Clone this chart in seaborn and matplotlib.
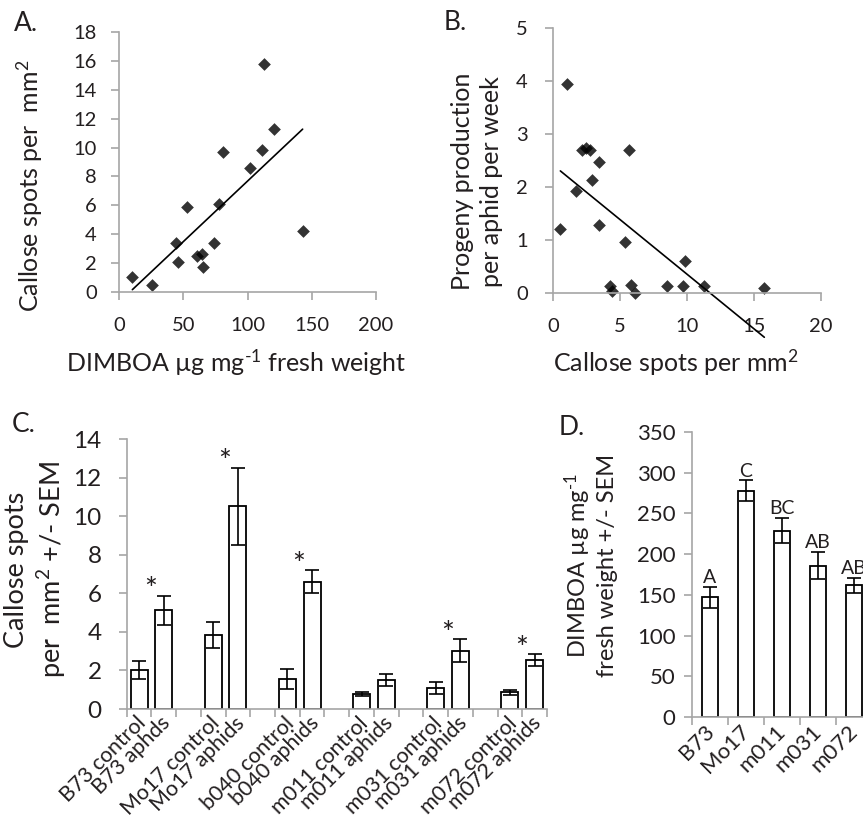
import numpy as np
import pandas as pd
import matplotlib
matplotlib.use("Agg")
import matplotlib.pyplot as plt
import seaborn as sns

# ---------------- data ----------------
# Panel A: DIMBOA vs callose spots
a_dimboa = [10.4, 26, 44.2, 45.7, 53, 60.8, 64.7, 65.5, 74, 78, 81, 101.8, 111, 113, 120.5, 142.9]
a_callose = [1.04, 0.5, 3.4, 2.1, 5.9, 2.5, 2.65, 1.73, 3.4, 6.07, 9.67, 8.56, 9.8, 15.8, 11.3, 4.22]

# Panel B: callose spots vs progeny production
b_callose = [0.55, 1.07, 1.74, 2.17, 2.49, 2.74, 2.91, 3.41, 3.41, 4.24, 4.43, 5.35, 5.68, 5.85,
             6.1, 8.5, 9.7, 9.84, 11.3, 15.77]
b_progeny = [1.21, 3.95, 1.92, 2.70, 2.74, 2.70, 2.14, 2.47, 1.28, 0.13, 0.03, 0.97, 2.70, 0.16,
             0.0, 0.14, 0.14, 0.61, 0.14, 0.09]

# Panel C: callose spots per treatment
c_labels = ["B73 control", "B73 aphds", "Mo17 control", "Mo17 aphids", "b040 control", "b040 aphids",
            "m011 control", "m011 aphids", "m031 control", "m031 aphids", "m072 control", "m072 aphids"]
c_means = [2.03, 5.12, 3.84, 10.52, 1.55, 6.59, 0.78, 1.52, 1.09, 3.02, 0.86, 2.55]
c_sem = [0.45, 0.76, 0.69, 2.0, 0.5, 0.6, 0.08, 0.32, 0.33, 0.6, 0.12, 0.3]
c_sig = ["", "*", "", "*", "", "*", "", "", "", "*", "", "*"]

# Panel D: DIMBOA per line
d_labels = ["B73", "Mo17", "m011", "m031", "m072"]
d_means = [147, 278, 229, 186, 161.7]
d_sem = [13, 12.5, 15, 16.5, 9]
d_letters = ["A", "C", "BC", "AB", "AB"]

# ---------------- style ----------------
sns.set_style("ticks")
plt.rcParams["font.family"] = ["Lato", "DejaVu Sans"]
plt.rcParams["mathtext.fontset"] = "custom"
plt.rcParams["mathtext.rm"] = "Lato"
plt.rcParams["mathtext.it"] = "Lato"
plt.rcParams["mathtext.default"] = "regular"

GRAY = "#a6a6a6"
TXT = "#231f20"

W, H = 863, 819
fig = plt.figure(figsize=(W / 100, H / 100), dpi=100)


def px_axes(l, r, t, b):
    return fig.add_axes([l / W, 1 - b / H, (r - l) / W, (b - t) / H])


def style(ax, tsize, tlen=6):
    sns.despine(ax=ax)
    for s in ("left", "bottom"):
        ax.spines[s].set_color(GRAY)
        ax.spines[s].set_linewidth(1.2)
    ax.tick_params(axis="both", which="major", direction="out", length=tlen, width=1.2,
                   color=GRAY, labelcolor=TXT, labelsize=tsize)


SUP_M1 = r"$^{\text{-1}}$"

# ---------------- Panel A ----------------
axA = px_axes(119, 376, 32, 292)
sns.regplot(x=a_dimboa, y=a_callose, ax=axA, ci=None, marker="D",
            scatter_kws=dict(s=42, color="black", linewidths=0, clip_on=False),
            line_kws=dict(color="black", lw=1.2))
axA.set_xlim(0, 200)
axA.set_ylim(0, 18)
axA.set_xticks(range(0, 201, 50))
axA.set_yticks(range(0, 19, 2))
style(axA, 14.5)
axA.tick_params(axis="x", pad=12)
axA.tick_params(axis="y", pad=10)
axA.set_xlabel("DIMBOA µg mg" + SUP_M1 + " fresh weight", fontsize=18, color=TXT)
axA.set_ylabel("Callose spots per  mm$^{2}$", fontsize=18, color=TXT)
axA.xaxis.set_label_coords(0.455, -0.215)
axA.yaxis.set_label_coords(-0.288, 0.41)

# ---------------- Panel B ----------------
axB = px_axes(553, 821, 28, 293)
sns.regplot(x=b_callose, y=b_progeny, ax=axB, ci=None, marker="D",
            scatter_kws=dict(s=42, color="black", linewidths=0, clip_on=False),
            line_kws=dict(color="black", lw=1.2, clip_on=False))
axB.set_xlim(0, 20)
axB.set_ylim(0, 5)
axB.set_xticks(range(0, 21, 5))
axB.set_yticks(range(0, 6, 1))
style(axB, 14.5)
axB.tick_params(axis="x", pad=12)
axB.tick_params(axis="y", pad=12)
axB.set_xlabel("Callose spots per mm$^{2}$", fontsize=18, color=TXT)
axB.set_ylabel("Progeny production\nper aphid per week", fontsize=18, color=TXT, linespacing=1.3)
axB.xaxis.set_label_coords(0.46, -0.205)
axB.yaxis.set_label_coords(-0.187, 0.42)

# ---------------- Panel C ----------------
axC = px_axes(126.7, 547, 439, 709)
c_order = []
for i, lab in enumerate(c_labels):
    c_order.append(lab)
    if i % 2 == 1 and i < len(c_labels) - 1:
        c_order.append(" " * (i + 1))
dfc = pd.DataFrame({"label": c_labels, "mean": c_means})
sns.barplot(data=dfc, x="label", y="mean", order=c_order, color="white", saturation=1,
            edgecolor="black", linewidth=1.3, width=0.69, errorbar=None, ax=axC)
c_pos = [c_order.index(l) for l in c_labels]
axC.errorbar(c_pos, c_means, yerr=c_sem, fmt="none", ecolor="black", elinewidth=1.2,
             capsize=5, capthick=1.2)
for p, m, s, sig in zip(c_pos, c_means, c_sem, c_sig):
    if sig:
        axC.text(p - 0.53, m + s - 0.45, sig, ha="center", va="bottom", fontsize=22, color=TXT)
axC.set_xlim(-0.5, len(c_order) - 0.5)
axC.set_ylim(0, 14)
axC.set_yticks(range(0, 15, 2))
axC.set_xticks(np.arange(-0.5, len(c_order), 1.0))
axC.set_xticklabels([])
axC.set_xticks([p + 0.15 for p in c_pos], minor=True)
axC.set_xticklabels(c_labels, minor=True, rotation=45, ha="right", va="center",
                    rotation_mode="anchor", fontsize=15.5, color=TXT)
style(axC, 17.5, tlen=6)
axC.tick_params(axis="x", which="minor", length=0, pad=8)
axC.tick_params(axis="y", pad=12)
axC.set_xlabel("")
axC.set_ylabel("Callose spots\nper  mm$^{2}$ +/- SEM", fontsize=19.5, color=TXT, linespacing=1.25)
axC.yaxis.set_label_coords(-0.14, 0.515)

# ---------------- Panel D ----------------
axD = px_axes(692, 872, 432, 717)
dfd = pd.DataFrame({"line": d_labels, "mean": d_means})
sns.barplot(data=dfd, x="line", y="mean", order=d_labels, color="white", saturation=1,
            edgecolor="black", linewidth=1.3, width=0.42, errorbar=None, ax=axD)
d_pos = list(range(len(d_labels)))
axD.errorbar(d_pos, d_means, yerr=d_sem, fmt="none", ecolor="black", elinewidth=1.2,
             capsize=5, capthick=1.2)
for p, m, s, let in zip(d_pos, d_means, d_sem, d_letters):
    axD.text(p, m + s + 1, let, ha="center", va="bottom", fontsize=14, color=TXT)
axD.set_xlim(-0.5, len(d_labels) - 0.5)
axD.set_ylim(0, 350)
axD.set_yticks(range(0, 351, 50))
axD.set_xticks(np.arange(-0.5, len(d_labels), 1.0))
axD.set_xticklabels([])
axD.set_xticks([p + 0.02 for p in d_pos], minor=True)
axD.set_xticklabels(d_labels, minor=True, rotation=45, ha="right", va="center",
                    rotation_mode="anchor", fontsize=16, color=TXT)
style(axD, 16)
axD.tick_params(axis="x", which="minor", length=0, pad=8)
axD.tick_params(axis="y", pad=6)
axD.set_xlabel("")
axD.set_ylabel("DIMBOA µg mg" + SUP_M1 + "\nfresh weight +/- SEM", fontsize=17, color=TXT,
               linespacing=1.25)
axD.yaxis.set_label_coords(-0.411, 0.533)

# ---------------- panel letters ----------------
for x, y, t in [(14, 31, "A."), (444, 30, "B."), (12, 432, "C."), (559, 435, "D.")]:
    fig.text(x / W, 1 - y / H, t, fontsize=19, color=TXT, ha="left", va="baseline")

fig.savefig("out.png", dpi=100)
